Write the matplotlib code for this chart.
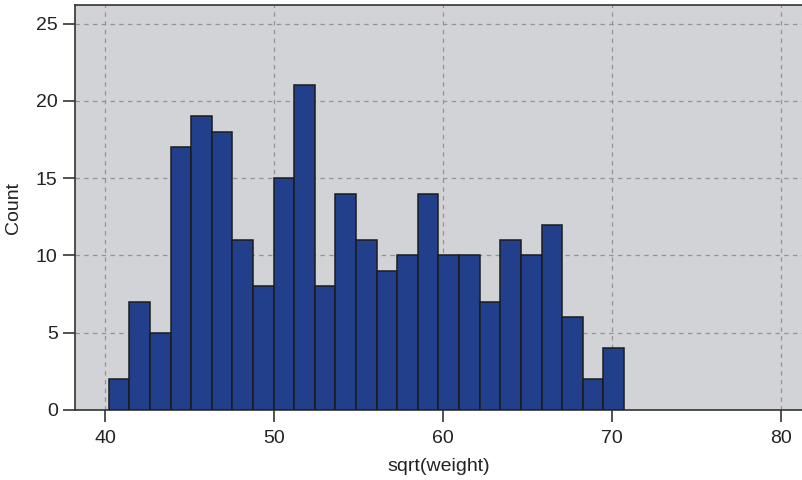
import numpy as np
import matplotlib
matplotlib.use("Agg")
import matplotlib.pyplot as plt

plt.rcParams['font.family'] = ['Liberation Sans', 'DejaVu Sans']

# Data
bin_low = 40.2
bin_high = 70.7
counts = [2, 7, 5, 17, 19, 18, 11, 8, 15, 21, 8, 14, 11, 9, 10,
          14, 10, 10, 7, 11, 10, 12, 6, 2, 4]
x_ticks = [40, 50, 60, 70, 80]
y_ticks = [0, 5, 10, 15, 20, 25]

edges = np.linspace(bin_low, bin_high, len(counts) + 1)
widths = np.diff(edges)

fig = plt.figure(figsize=(8.03, 4.8), dpi=100)
ax = fig.add_axes([75 / 803, 70 / 480, 728 / 803, 405 / 480])
ax.set_facecolor('#d2d3d6')

ax.bar(edges[:-1], counts, width=widths, align='edge',
       color='#223f8b', edgecolor='#1c1c1c', linewidth=1.1, zorder=3)

ax.set_xlim(38.2, 81.3)
ax.set_ylim(0, 26.2)
ax.set_xticks(x_ticks)
ax.set_yticks(y_ticks)
ax.grid(True, linestyle=(0, (3.5, 3.5)), color='#939393', linewidth=0.9, zorder=1)

for s in ax.spines.values():
    s.set_color('#333333')
    s.set_linewidth(1.2)

ax.tick_params(axis='both', direction='out', length=8.5, width=1.2,
               color='#333333', labelsize=14, labelcolor='#222222')
ax.tick_params(axis='x', pad=6)
ax.tick_params(axis='y', pad=4)

ax.set_xlabel('sqrt(weight)', fontsize=14, color='#222222', labelpad=8)
ax.set_ylabel('Count', fontsize=14, color='#222222', labelpad=10)

fig.savefig('out.png', dpi=100)
